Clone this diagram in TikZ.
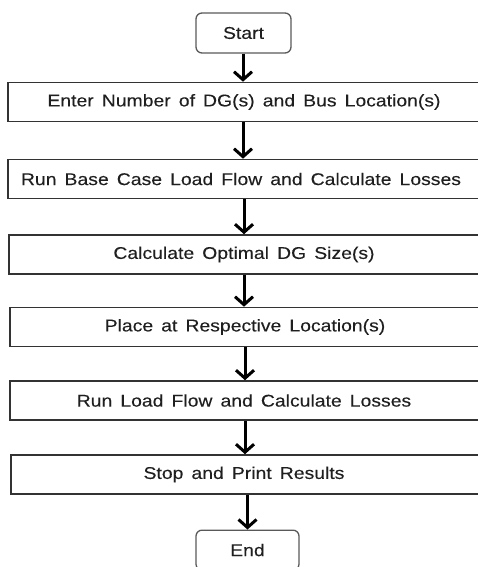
\documentclass[tikz,border=0pt]{standalone}
\usepackage{fontspec}
\setmainfont{Liberation Sans}[FakeStretch=1.14, WordSpace=1.5, FakeBold=0.15]
\usetikzlibrary{arrows.meta}
\begin{document}
\begin{tikzpicture}[x=1pt,y=-1pt,
  every node/.style={font=\fontsize{17}{19}\selectfont, text=black!88},
  stepbox/.style={draw=black!80, line width=1.6pt, rectangle, minimum height=39pt, inner sep=0pt},
  termbox/.style={draw=black!65, line width=1.3pt, rounded corners=6pt, minimum height=40pt, inner sep=0pt},
  flow/.style={line width=3pt, -{Straight Barb[length=8pt,width=18pt]}}
]
\useasboundingbox (0,0) rectangle (478,567);
\begin{scope}
\clip (0,0) rectangle (478,567);
% terminal boxes
\node[termbox, minimum width=95pt] (start) at (243.5,33) {Start};
\node[termbox, minimum width=103pt, anchor=north] (end) at (247.5,529.5) {};
\node at (247.5,550) {End};
% process steps (they run past the right edge)
\node[stepbox, minimum width=486pt, anchor=west] (s1) at (7,102) {};
\node[stepbox, minimum width=486pt, anchor=west] (s2) at (7,179) {};
\node[stepbox, minimum width=486pt, anchor=west] (s3) at (8,254.5) {};
\node[stepbox, minimum width=486pt, anchor=west] (s4) at (9,327) {};
\node[stepbox, minimum width=486pt, anchor=west] (s5) at (9,400.5) {};
\node[stepbox, minimum width=486pt, anchor=west] (s6) at (10,474.5) {};
\node (t1) at (244,102) {Enter Number of DG(s) and Bus Location(s)};
\node (t2) at (241,179) {Run Base Case Load Flow and Calculate Losses};
\node (t3) at (244,254.5) {Calculate Optimal DG Size(s)};
\node (t4) at (245,327) {Place at Respective Location(s)};
\node (t5) at (244,400.5) {Run Load Flow and Calculate Losses};
\node (t6) at (244,474.5) {Stop and Print Results};
% connectors
\draw[flow] (start.south -| 243,0) -- (s1.north -| 243,0);
\draw[flow] (s1.south -| 243,0) -- (s2.north -| 243,0);
\draw[flow] (s2.south -| 244,0) -- (s3.north -| 244,0);
\draw[flow] (s3.south -| 244,0) -- (s4.north -| 244,0);
\draw[flow] (s4.south -| 245,0) -- (s5.north -| 245,0);
\draw[flow] (s5.south -| 245,0) -- (s6.north -| 245,0);
\draw[flow] (s6.south -| 247.5,0) -- (end.north);
\end{scope}
\end{tikzpicture}
\end{document}
